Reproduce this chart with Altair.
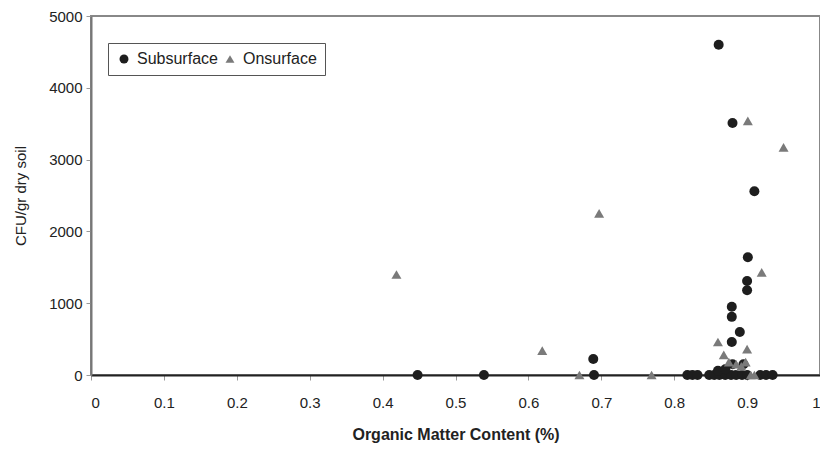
import altair as alt
import pandas as pd

sub_x = [0.448, 0.539, 0.690, 0.689, 0.818, 0.825, 0.832, 0.848, 0.855, 0.862,
         0.870, 0.878, 0.885, 0.893, 0.900, 0.918, 0.926, 0.935,
         0.861, 0.880, 0.910, 0.901, 0.900, 0.900, 0.879, 0.879, 0.890, 0.879,
         0.880, 0.895, 0.860, 0.870]
sub_y = [0, 0, 0, 222, 0, 0, 0, 0, 0, 0,
         0, 0, 0, 0, 0, 0, 0, 0,
         4600, 3510, 2560, 1640, 1310, 1180, 950, 810, 600, 460,
         150, 150, 60, 80]

on_x = [0.419, 0.697, 0.619, 0.670, 0.769, 0.901, 0.950, 0.920, 0.860, 0.900,
        0.868, 0.875, 0.885, 0.892, 0.898, 0.905, 0.910]
on_y = [1400, 2250, 340, 0, 0, 3540, 3170, 1430, 460, 360,
        280, 180, 150, 120, 180, 0, 0]

x_ticks = [0, 0.1, 0.2, 0.3, 0.4, 0.5, 0.6, 0.7, 0.8, 0.9, 1]
y_ticks = [0, 1000, 2000, 3000, 4000, 5000]
series = ["Subsurface", "Onsurface"]

df = pd.DataFrame({
    "x": sub_x + on_x,
    "y": sub_y + on_y,
    "series": [series[0]] * len(sub_x) + [series[1]] * len(on_x),
})

FONT = "Liberation Sans"

points = alt.Chart(df).mark_point(filled=True, opacity=1, size=100).encode(
    x=alt.X("x:Q",
            scale=alt.Scale(domain=[0, 1], nice=False, zero=False),
            axis=alt.Axis(values=x_ticks, format=".1~f", title="Organic Matter Content (%)",
                          grid=False, domainColor="#222", domainWidth=2,
                          tickColor="#999", tickSize=5, labelPadding=15,
                          titlePadding=16)),
    y=alt.Y("y:Q",
            scale=alt.Scale(domain=[0, 5000], nice=False),
            axis=alt.Axis(values=y_ticks, format="d", title="CFU/gr dry soil",
                          grid=False, domainColor="#777", domainWidth=2,
                          tickColor="#999", tickSize=5, labelPadding=4,
                          titlePadding=20)),
    color=alt.Color("series:N",
                    scale=alt.Scale(domain=series, range=["#1e1e1e", "#7a7a7a"]),
                    title=None),
    shape=alt.Shape("series:N",
                    scale=alt.Scale(domain=series, range=["circle", "triangle-up"]),
                    title=None),
)

chart = points.properties(
    width=729,
    height=359,
    autosize=alt.AutoSizeParams(type="none"),
    padding={"left": 83, "top": 8, "right": 0, "bottom": 80},
).configure_view(
    stroke="#888", strokeWidth=2
).configure_axis(
    labelFont=FONT, labelFontSize=15, labelColor="#222",
    titleFont=FONT, titleColor="#222",
).configure_axisX(
    titleFontSize=16, titleFontWeight="bold"
).configure_axisY(
    titleFontSize=15, titleFontWeight="normal"
).configure_legend(
    orient="none", legendX=17, legendY=27, direction="horizontal",
    labelFont=FONT, labelFontSize=16, labelColor="#222",
    symbolSize=80, strokeColor="#555", fillColor="white", padding=8,
    columnPadding=4, symbolStrokeWidth=0, labelOffset=5
)

chart.save("out.html", embed_options={"renderer": "svg", "actions": False})
